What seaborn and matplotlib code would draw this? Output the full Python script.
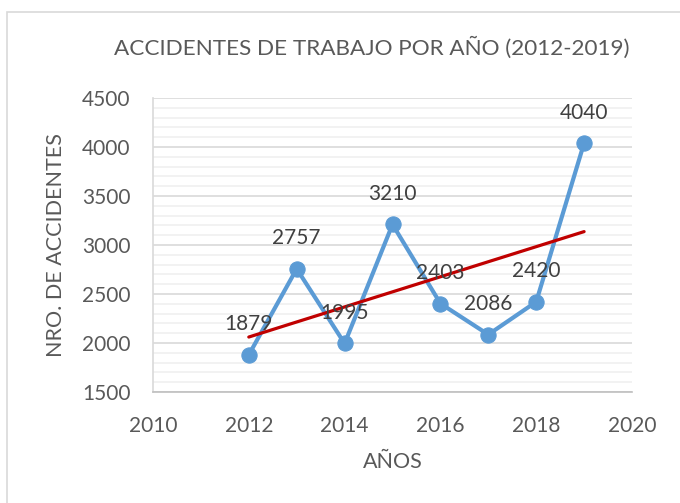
import matplotlib
matplotlib.use("Agg")
import matplotlib.pyplot as plt
from matplotlib.patches import Rectangle
from matplotlib.ticker import MultipleLocator
import seaborn as sns
import numpy as np
import pandas as pd

years = [2012, 2013, 2014, 2015, 2016, 2017, 2018, 2019]
accidents = [1879, 2757, 1995, 3210, 2403, 2086, 2420, 4040]
title = "ACCIDENTES DE TRABAJO POR AÑO (2012-2019)"
xlabel = "AÑOS"
ylabel = "NRO. DE ACCIDENTES"
xticks = [2010, 2012, 2014, 2016, 2018, 2020]
yticks = [1500, 2000, 2500, 3000, 3500, 4000, 4500]

sns.set_theme(style="white")
plt.rcParams["font.family"] = ["Lato", "DejaVu Sans"]
txt = "#595959"

df = pd.DataFrame({"year": years, "n": accidents})

fig = plt.figure(figsize=(6.8, 5.03), dpi=100)
fig.patch.set_facecolor("white")
fig.patches.append(Rectangle((7 / 680, -0.1), 1.2, 1 - 12 / 503 + 0.1,
                             transform=fig.transFigure, fill=False,
                             edgecolor="#D9D9D9", linewidth=1.2, zorder=0))
ax = fig.add_axes([153 / 680, 1 - 392 / 503, (632 - 153) / 680, (392 - 98) / 503])

sns.lineplot(data=df, x="year", y="n", ax=ax, color="#5B9BD5", linewidth=3,
             marker="o", markersize=11, markeredgecolor="#5B9BD5", zorder=3)

# linear trendline
coef = np.polyfit(years, accidents, 1)
tx = np.array([years[0], years[-1]])
sns.lineplot(x=tx, y=np.polyval(coef, tx), ax=ax, color="#C00000", linewidth=2.3, zorder=4)

for x, y in zip(years, accidents):
    ax.annotate(str(y), (x, y), xytext=(0, 22), textcoords="offset points",
                ha="center", va="center", fontsize=15, color="#404040", zorder=5)

ax.set_xlim(2010, 2020)
ax.set_ylim(1500, 4500)
ax.set_xticks(xticks)
ax.set_yticks(yticks)
ax.yaxis.set_minor_locator(MultipleLocator(100))
ax.grid(axis="y", which="major", color="#D9D9D9", linewidth=1.2, zorder=0)
ax.grid(axis="y", which="minor", color="#F0F0F0", linewidth=1.2, zorder=0)
ax.grid(axis="x", visible=False)
ax.set_axisbelow(True)

for s in ["top", "right"]:
    ax.spines[s].set_visible(False)
ax.spines["left"].set_color("#D9D9D9")
ax.spines["bottom"].set_color("#BFBFBF")
ax.spines["left"].set_linewidth(1.2)
ax.spines["bottom"].set_linewidth(1.2)

ax.tick_params(axis="both", which="both", labelsize=15, labelcolor=txt, length=0)
ax.tick_params(axis="y", pad=16)
ax.tick_params(axis="x", pad=17)
ax.set_xlabel(xlabel, fontsize=15.5, color=txt, labelpad=12)
ax.set_ylabel(ylabel, fontsize=15.5, color=txt, labelpad=12)
fig.text(372 / 680, 1 - 48 / 503, title, ha="center", va="center", fontsize=16.2, color=txt)

fig.savefig("out.png", dpi=100)
